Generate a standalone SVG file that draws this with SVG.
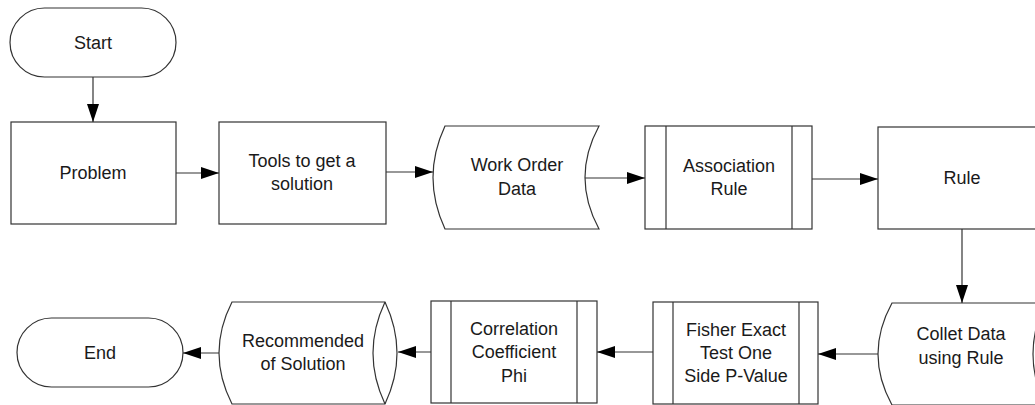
<svg xmlns="http://www.w3.org/2000/svg" width="1035" height="405" viewBox="0 0 1035 405">
  <style>
    .shape { fill: #ffffff; stroke: #333333; stroke-width: 1.2; }
    .inner { fill: none; stroke: #333333; stroke-width: 1.2; }
    .label { font-family: "Liberation Sans", Arial, sans-serif; font-size: 18px; fill: #1a1a1a; text-anchor: middle; }
    .conn { fill: none; stroke: #333333; stroke-width: 1.2; marker-end: url(#arrow); }
  </style>
  <defs>
    <marker id="arrow" viewBox="0 0 18 12" refX="18" refY="6" markerWidth="18" markerHeight="12" markerUnits="userSpaceOnUse" orient="auto">
      <path d="M0,0 L18,6 L0,12 Z" fill="#000000"/>
    </marker>
  </defs>
  <rect width="1035" height="405" fill="#ffffff"/>

  <g id="start">
    <rect class="shape" x="10" y="8" width="166" height="69" rx="34.5" ry="34.5"/>
    <text class="label" x="93" y="49">Start</text>
  </g>

  <g id="problem">
    <rect class="shape" x="11" y="122" width="165" height="102"/>
    <text class="label" x="93" y="179">Problem</text>
  </g>

  <g id="tools">
    <rect class="shape" x="219" y="122" width="167" height="102"/>
    <text class="label" x="302" y="167">Tools to get a</text>
    <text class="label" x="302" y="190">solution</text>
  </g>

  <g id="work-order-data">
    <path class="shape" d="M445,126 L599,126 Q571,177.5 599,229 L445,229 Q421,177.5 445,126 Z"/>
    <text class="label" x="517" y="171">Work Order</text>
    <text class="label" x="517" y="195">Data</text>
  </g>

  <g id="association-rule">
    <rect class="shape" x="645" y="126" width="167" height="103"/>
    <line class="inner" x1="666" y1="126" x2="666" y2="229"/>
    <line class="inner" x1="792" y1="126" x2="792" y2="229"/>
    <text class="label" x="729" y="172">Association</text>
    <text class="label" x="729" y="195">Rule</text>
  </g>

  <g id="rule">
    <rect class="shape" x="878" y="127" width="167" height="102"/>
    <text class="label" x="962" y="184">Rule</text>
  </g>

  <g id="collet-data">
    <path class="shape" d="M892,303 L1045,303 Q1021,354 1045,405 L892,405 Q864,354 892,303 Z"/>
    <path class="inner" d="M1045,303 Q1069,354 1045,405"/>
    <text class="label" x="961" y="340">Collet Data</text>
    <text class="label" x="961" y="364">using Rule</text>
  </g>

  <g id="fisher-exact">
    <rect class="shape" x="653" y="302" width="165" height="102"/>
    <line class="inner" x1="673" y1="302" x2="673" y2="404"/>
    <line class="inner" x1="799" y1="302" x2="799" y2="404"/>
    <text class="label" x="736" y="336">Fisher Exact</text>
    <text class="label" x="736" y="359">Test One</text>
    <text class="label" x="736" y="382">Side P-Value</text>
  </g>

  <g id="correlation-phi">
    <rect class="shape" x="431" y="301" width="166" height="102"/>
    <line class="inner" x1="451" y1="301" x2="451" y2="403"/>
    <line class="inner" x1="577" y1="301" x2="577" y2="403"/>
    <text class="label" x="514" y="335">Correlation</text>
    <text class="label" x="514" y="358">Coefficient</text>
    <text class="label" x="514" y="382">Phi</text>
  </g>

  <g id="recommended">
    <path class="shape" d="M232,302 L385,302 Q409,353 385,404 L232,404 Q206,353 232,302 Z"/>
    <path class="inner" d="M385,302 Q361,353 385,404"/>
    <text class="label" x="303" y="347">Recommended</text>
    <text class="label" x="303" y="370">of Solution</text>
  </g>

  <g id="end">
    <rect class="shape" x="17" y="318" width="166" height="69" rx="34.5" ry="34.5"/>
    <text class="label" x="100" y="359">End</text>
  </g>

  <g id="connectors">
    <line class="conn" x1="93" y1="77" x2="93" y2="122"/>
    <line class="conn" x1="176" y1="173" x2="219" y2="173"/>
    <line class="conn" x1="386" y1="172" x2="433" y2="172"/>
    <line class="conn" x1="585" y1="178" x2="645" y2="178"/>
    <line class="conn" x1="812" y1="179" x2="878" y2="179"/>
    <line class="conn" x1="962" y1="229" x2="962" y2="303"/>
    <line class="conn" x1="878" y1="354" x2="818" y2="354"/>
    <line class="conn" x1="653" y1="352" x2="597" y2="352"/>
    <line class="conn" x1="431" y1="352" x2="398" y2="352"/>
    <line class="conn" x1="219" y1="353" x2="183" y2="353"/>
  </g>
</svg>
